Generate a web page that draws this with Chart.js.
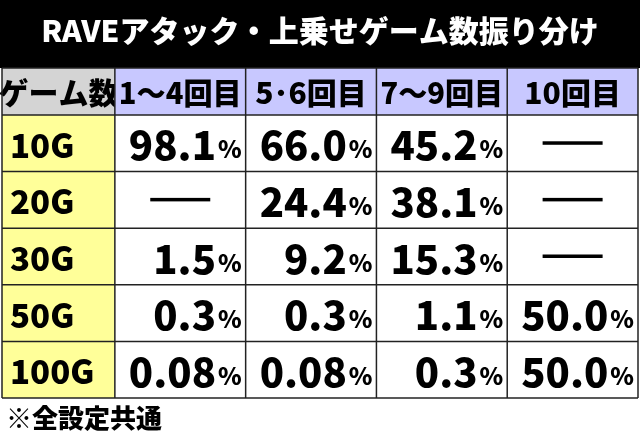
<!DOCTYPE html>
<html>
<head>
<meta charset="utf-8">
<script src="https://cdn.jsdelivr.net/npm/chart.js@4"></script>
<style>
  html, body { margin: 0; padding: 0; background: #fff; }
  #wrap { width: 640px; height: 443px; }
</style>
</head>
<body>
<div id="wrap"><canvas id="table-chart"></canvas></div>
<script>
// データ
const titleText = 'RAVEアタック・上乗せゲーム数振り分け';
const cornerLabel = 'ゲーム数';
const columnLabels = ['1～4回目', '5･6回目', '7～9回目', '10回目'];
const rowLabels = ['10G', '20G', '30G', '50G', '100G'];
const col1Values = ['98.1', null, '1.5', '0.3', '0.08'];
const col2Values = ['66.0', '24.4', '9.2', '0.3', '0.08'];
const col3Values = ['45.2', '38.1', '15.3', '1.1', '0.3'];
const col4Values = [null, null, null, '50.0', '50.0'];
const footnote = '※全設定共通';

const columns = [col1Values, col2Values, col3Values, col4Values];
const FONT = '"Noto Sans CJK JP", "Noto Sans", sans-serif';

// セル中心の点（描画はプラグインで）
const points = [];
columns.forEach((vals, c) => vals.forEach((v, r) => points.push({ x: c + 0.5, y: r + 0.5 })));

const tablePlugin = {
    id: 'tablePlugin',
    beforeDraw(chart) {
        const ctx = chart.ctx;
        const x = chart.scales.x, y = chart.scales.y;
        const W = chart.width;
        ctx.save();
        // タイトル
        ctx.fillStyle = '#000';
        ctx.fillRect(0, 0, W, y.getPixelForValue(y.min));
        ctx.fillStyle = '#fff';
        ctx.font = '900 30px ' + FONT;
        ctx.textAlign = 'center';
        ctx.textBaseline = 'middle';
        ctx.fillText(titleText, W / 2, 31);

        const cell = (x0, x1, y0, y1, fill) => {
            const px0 = x.getPixelForValue(x0), px1 = x.getPixelForValue(x1);
            const py0 = y.getPixelForValue(y0), py1 = y.getPixelForValue(y1);
            ctx.fillStyle = fill;
            ctx.fillRect(px0, py0, px1 - px0, py1 - py0);
            return { px0, px1, py0, py1 };
        };
        // ヘッダー
        let b = cell(x.min, 0, y.min, 0, '#d4d4d4');
        ctx.fillStyle = '#000';
        ctx.font = '900 30px ' + FONT;
        ctx.textAlign = 'center';
        ctx.fillText(cornerLabel, (b.px0 + b.px1) / 2, (b.py0 + b.py1) / 2 + 1);
        columnLabels.forEach((lab, c) => {
            b = cell(c, c + 1, y.min, 0, '#c8c8ff');
            ctx.fillStyle = '#000';
            ctx.fillText(lab, (b.px0 + b.px1) / 2, (b.py0 + b.py1) / 2 + 1, b.px1 - b.px0 - 8);
        });
        // 行
        rowLabels.forEach((lab, r) => {
            b = cell(x.min, 0, r, r + 1, '#ffff99');
            ctx.fillStyle = '#000';
            ctx.font = '900 33px ' + FONT;
            ctx.textAlign = 'left';
            ctx.fillText(lab, b.px0 + 8, (b.py0 + b.py1) / 2 + 2);
            columns.forEach((vals, c) => {
                b = cell(c, c + 1, r, r + 1, '#fff');
                const v = vals[r];
                const cy = (b.py0 + b.py1) / 2 + 2;
                ctx.fillStyle = '#000';
                if (v === null) {
                    const cx = (b.px0 + b.px1) / 2;
                    ctx.fillRect(cx - 30, cy - 4, 60, 3.5);
                } else {
                    ctx.font = '900 24px ' + FONT;
                    ctx.textAlign = 'right';
                    const pw = ctx.measureText('%').width;
                    ctx.fillText('%', b.px1 - 4, cy + 4);
                    ctx.font = '900 40px ' + FONT;
                    ctx.fillText(v, b.px1 - 6 - pw, cy);
                }
            });
        });
        // 罫線
        ctx.strokeStyle = '#222';
        ctx.lineWidth = 1.5;
        [x.min, 0, 1, 2, 3, 4].forEach(v => {
            const px = x.getPixelForValue(v);
            ctx.beginPath();
            ctx.moveTo(px, y.getPixelForValue(y.min));
            ctx.lineTo(px, y.getPixelForValue(y.max));
            ctx.stroke();
        });
        [y.min, 0, 1, 2, 3, 4, 5].forEach(v => {
            const py = y.getPixelForValue(v);
            ctx.beginPath();
            ctx.moveTo(x.getPixelForValue(x.min), py);
            ctx.lineTo(x.getPixelForValue(x.max), py);
            ctx.stroke();
        });
        // 注記
        ctx.fillStyle = '#000';
        ctx.font = '900 26px ' + FONT;
        ctx.textAlign = 'left';
        ctx.fillText(footnote, 6, 418);
        ctx.restore();
    }
};

new Chart(document.getElementById('table-chart').getContext('2d'), {
    type: 'scatter',
    data: { datasets: [{ data: points, pointRadius: 0, pointHoverRadius: 0 }] },
    options: {
        responsive: true,
        maintainAspectRatio: false,
        animation: false,
        events: [],
        layout: { padding: { left: 2, right: 2, top: 68, bottom: 45 } },
        plugins: { legend: { display: false }, tooltip: { enabled: false } },
        scales: {
            x: { type: 'linear', min: -0.863, max: 4, display: false },
            y: { type: 'linear', min: -0.83, max: 5, reverse: true, display: false }
        }
    },
    plugins: [tablePlugin]
});
</script>
</body>
</html>
